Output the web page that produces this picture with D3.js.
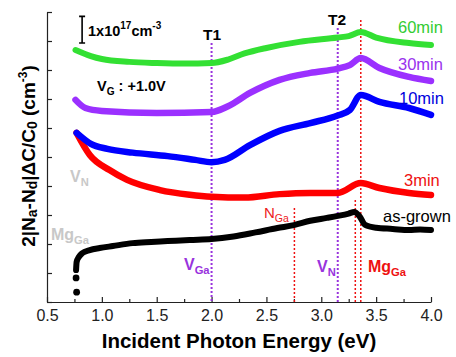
<!DOCTYPE html>
<html>
<head>
<meta charset="utf-8">
<script src="https://cdn.jsdelivr.net/npm/d3@7"></script>
<style>
  body { margin: 0; background: #fff; }
  svg { font-family: Arial, "Liberation Sans", sans-serif; }
  .axis path, .axis line { stroke: #222; stroke-width: 1.2; }
  .axis text { font-size: 16px; fill: #222; }
</style>
</head>
<body>
<svg width="456" height="357"></svg>
<script>
// Photon energy (eV) and 2|Na-Nd|dC/C0 in units of 1e17 cm^-3 (curves offset)
const green60E = [0.76, 0.9, 1.0, 1.25, 1.5, 1.75, 2.0, 2.15, 2.3, 2.5, 2.8, 3.15, 3.25, 3.36, 3.5, 3.8, 4.0];
const green60V = [8.69, 8.48, 8.38, 8.28, 8.24, 8.22, 8.24, 8.36, 8.57, 8.76, 8.97, 9.12, 9.17, 9.31, 9.12, 8.93, 8.86];

const purple30E = [0.76, 0.85, 1.0, 1.5, 2.0, 2.15, 2.35, 2.62, 2.9, 3.15, 3.26, 3.36, 3.53, 3.8, 4.0];
const purple30V = [6.97, 6.69, 6.59, 6.52, 6.55, 6.75, 7.21, 7.66, 7.90, 8.05, 8.17, 8.41, 8.07, 7.76, 7.62];

const blue10E = [0.77, 0.9, 1.05, 1.28, 1.6, 1.85, 2.0, 2.12, 2.35, 2.62, 2.9, 3.15, 3.26, 3.36, 3.53, 3.8, 4.0];
const blue10V = [5.83, 5.45, 5.28, 5.15, 5.03, 4.90, 4.82, 4.90, 5.41, 5.90, 6.17, 6.43, 6.62, 7.14, 6.90, 6.69, 6.45];

const red3E = [0.77, 0.89, 1.07, 1.23, 1.53, 1.8, 2.0, 2.3, 2.62, 2.9, 3.15, 3.36, 3.53, 3.8, 4.0];
const red3V = [5.83, 5.07, 4.55, 4.21, 3.86, 3.70, 3.63, 3.60, 3.72, 3.76, 3.76, 4.10, 3.93, 3.76, 3.69];

const grownDotE = [0.77, 0.765];
const grownDotV = [0.34, 0.83];
const grownE = [0.765, 0.77, 0.79, 0.82, 0.89, 0.98, 1.1, 1.28, 1.45, 1.6, 1.8, 2.0, 2.2, 2.4, 2.6, 2.75, 2.9, 3.05, 3.15, 3.25, 3.30, 3.35, 3.40, 3.5, 3.65, 3.8, 3.9, 4.0];
const grownV = [1.10, 1.38, 1.55, 1.68, 1.79, 1.86, 1.93, 2.03, 2.07, 2.10, 2.14, 2.17, 2.26, 2.40, 2.55, 2.65, 2.80, 2.90, 2.97, 3.05, 3.10, 2.95, 2.66, 2.56, 2.52, 2.48, 2.50, 2.48];

// reference lines: energy, top value
const purpleLineE = [2.0, 3.15];
const purpleLineTop = [8.93, 9.45];
const redLineE = [2.755, 3.31, 3.36];
const redLineTop = [3.24, 3.52, 9.72];

const xMajor = [0.5, 1.0, 1.5, 2.0, 2.5, 3.0, 3.5, 4.0];
const xMinor = [0.75, 1.25, 1.75, 2.25, 2.75, 3.25, 3.75];
const yTicks = [0, 1, 2, 3, 4, 5, 6, 7, 8, 9, 10];

const svg = d3.select("svg");
const x = d3.scaleLinear().domain([0.5, 4.0]).range([47, 431]);
const y = d3.scaleLinear().domain([0, 10]).range([302, 12]);

// axes
svg.append("g")
  .attr("class", "axis")
  .attr("transform", `translate(0, ${y(0)})`)
  .call(d3.axisBottom(x).tickValues(xMajor).tickSize(-5).tickSizeOuter(0)
    .tickPadding(8).tickFormat(d3.format(".1f")));

svg.append("g")
  .attr("class", "axis")
  .attr("transform", `translate(0, ${y(0)})`)
  .call(d3.axisBottom(x).tickValues(xMinor).tickSize(-3).tickFormat(""))
  .select(".domain").remove();

svg.append("g")
  .attr("class", "axis")
  .attr("transform", `translate(${x(0.5)}, 0)`)
  .call(d3.axisLeft(y).tickValues(yTicks).tickSize(-5).tickSizeOuter(0).tickFormat(""));

// vertical guide lines
purpleLineE.forEach((e, i) => {
  svg.append("line")
    .attr("x1", x(e)).attr("x2", x(e))
    .attr("y1", y(purpleLineTop[i])).attr("y2", y(0))
    .attr("stroke", "#9933dd").attr("stroke-width", 2)
    .attr("stroke-dasharray", "2,2");
});
redLineE.forEach((e, i) => {
  svg.append("line")
    .attr("x1", x(e)).attr("x2", x(e))
    .attr("y1", y(redLineTop[i])).attr("y2", y(0))
    .attr("stroke", "#ee1111").attr("stroke-width", 1.5)
    .attr("stroke-dasharray", "2,2");
});

// curves
const line = d3.line()
  .x(d => x(d[0]))
  .y(d => y(d[1]))
  .curve(d3.curveMonotoneX);

function drawCurve(es, vs, color, width) {
  svg.append("path")
    .datum(es.map((e, i) => [e, vs[i]]))
    .attr("d", line)
    .attr("fill", "none")
    .attr("stroke", color)
    .attr("stroke-width", width)
    .attr("stroke-linecap", "round")
    .attr("stroke-linejoin", "round");
}

drawCurve(green60E, green60V, "#33e033", 6);
drawCurve(purple30E, purple30V, "#9b30ff", 6.5);
drawCurve(red3E, red3V, "#ff0000", 6.5);
drawCurve(blue10E, blue10V, "#0000ff", 6.5);
drawCurve(grownE, grownV, "#000", 6);

svg.append("g").selectAll("circle")
  .data(grownDotE.map((e, i) => [e, grownDotV[i]]))
  .join("circle")
  .attr("cx", d => x(d[0]))
  .attr("cy", d => y(d[1]))
  .attr("r", 3.4)
  .attr("fill", "#000");

// scale bar (about one tick)
const barX = x(0.82);
svg.append("path")
  .attr("d", `M${barX - 3},${y(9.85)}H${barX + 3}M${barX},${y(9.85)}V${y(8.93)}M${barX - 3},${y(8.93)}H${barX + 3}`)
  .attr("stroke", "#000").attr("stroke-width", 1.6).attr("fill", "none");

const bar = svg.append("text")
  .attr("x", 88).attr("y", 36)
  .attr("font-size", 14.5).attr("font-weight", "bold");
bar.append("tspan").text("1x10");
bar.append("tspan").attr("font-size", 10).attr("dy", -7).text("17");
bar.append("tspan").attr("dy", 7).text("cm");
bar.append("tspan").attr("font-size", 10).attr("dy", -7).text("-3");

// labels
function label(xp, yp, parts, opts) {
  const t = svg.append("text")
    .attr("x", xp).attr("y", yp)
    .attr("font-size", opts.size)
    .attr("font-weight", opts.bold ? "bold" : "normal")
    .attr("fill", opts.color)
    .attr("text-anchor", opts.anchor || "start");
  parts.forEach(p => {
    const s = t.append("tspan").text(p[0]);
    if (p[1] === "sub") s.attr("font-size", opts.size * 0.7).attr("dy", 4);
    if (p[1] === "back") s.attr("dy", -4);
  });
  return t;
}

label(212, 40, [["T1"]], { size: 15.5, bold: true, color: "#000", anchor: "middle" });
label(337, 25, [["T2"]], { size: 15.5, bold: true, color: "#000", anchor: "middle" });
label(97, 91, [["V"], ["G", "sub"], [" : +1.0V", "back"]], { size: 14.5, bold: true, color: "#000" });

label(398, 33, [["60min"]], { size: 16.5, color: "#33cc33" });
label(398, 70, [["30min"]], { size: 16.5, color: "#9933ee" });
label(399, 104, [["10min"]], { size: 16.5, color: "#0000dd" });
label(404, 186, [["3min"]], { size: 16.5, color: "#ee1111" });
label(383, 222, [["as-grown"]], { size: 16.5, color: "#000" });

label(264, 218, [["N"], ["Ga", "sub"]], { size: 15, color: "#ee2222" });
label(317, 272, [["V"], ["N", "sub"]], { size: 16, bold: true, color: "#9933dd" });
label(368, 272, [["Mg"], ["Ga", "sub"]], { size: 16, bold: true, color: "#ee1111" });
label(184, 270, [["V"], ["Ga", "sub"]], { size: 16, bold: true, color: "#9933dd" });
label(70, 182, [["V"], ["N", "sub"]], { size: 16, bold: true, color: "#c8c8c8" });
label(51, 240, [["Mg"], ["Ga", "sub"]], { size: 16, bold: true, color: "#c8c8c8" });

// axis titles
svg.append("text")
  .attr("x", 239).attr("y", 348)
  .attr("text-anchor", "middle")
  .attr("font-size", 20.5).attr("font-weight", "bold")
  .text("Incident Photon Energy (eV)");

const yl = svg.append("text")
  .attr("transform", "translate(35, 156) rotate(-90)")
  .attr("text-anchor", "middle")
  .attr("font-size", 19).attr("font-weight", "bold");
yl.append("tspan").text("2|N");
yl.append("tspan").attr("font-size", 14).attr("dy", 2).text("a");
yl.append("tspan").attr("dy", -2).text("-N");
yl.append("tspan").attr("font-size", 14).attr("dy", 2).text("d");
yl.append("tspan").attr("dy", -2).text("|\u0394C/C");
yl.append("tspan").attr("font-size", 14).attr("dy", 2).text("0");
yl.append("tspan").attr("dy", -2).text(" (cm");
yl.append("tspan").attr("font-size", 12).attr("dy", -8).text("-3");
yl.append("tspan").attr("dy", 8).text(")");
</script>
</body>
</html>
